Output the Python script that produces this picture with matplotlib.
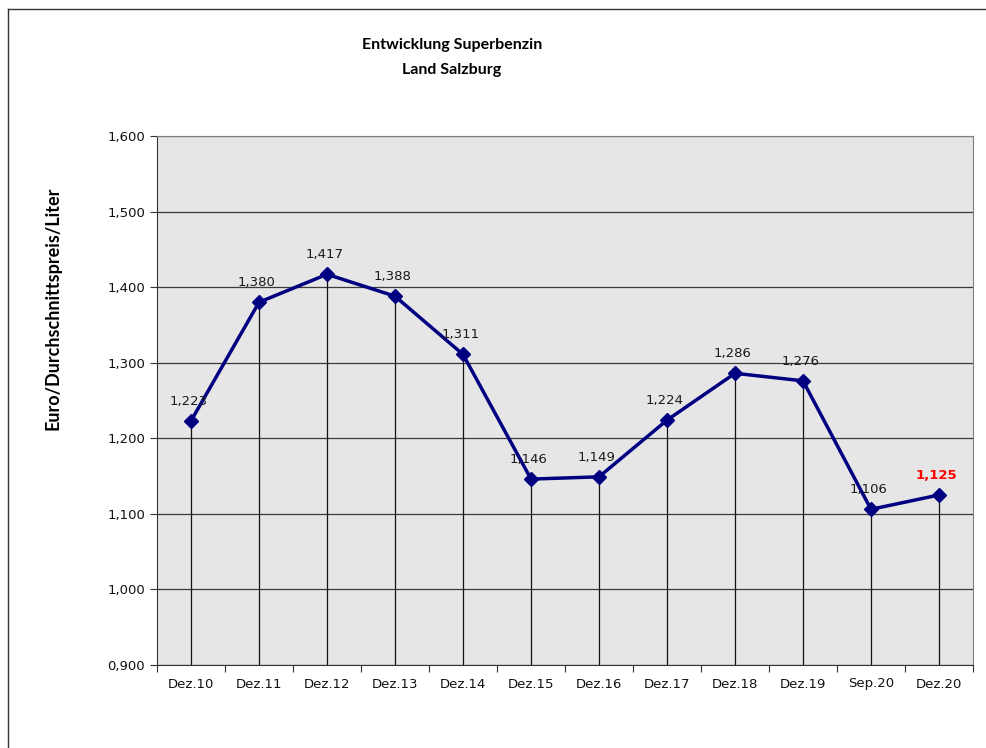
import matplotlib
matplotlib.use("Agg")
import matplotlib.pyplot as plt
from matplotlib.ticker import FuncFormatter, FixedLocator
from matplotlib.lines import Line2D

# Data
categories = ["Dez.10", "Dez.11", "Dez.12", "Dez.13", "Dez.14", "Dez.15",
              "Dez.16", "Dez.17", "Dez.18", "Dez.19", "Sep.20", "Dez.20"]
prices = [1.223, 1.380, 1.417, 1.388, 1.311, 1.146,
          1.149, 1.224, 1.286, 1.276, 1.106, 1.125]
y_ticks = [0.9, 1.0, 1.1, 1.2, 1.3, 1.4, 1.5, 1.6]

title_font = "Lato"


def fmt(v, pos=None):
    return f"{v:.3f}".replace(".", ",")


fig = plt.figure(figsize=(9.86, 7.48), dpi=100)
ax = fig.add_axes([157 / 986, 1 - 665 / 748, 816 / 986, 529 / 748])

# frame lines of the figure (top and left)
fig.add_artist(Line2D([8 / 986, 1.0], [1 - 9 / 748, 1 - 9 / 748],
                      transform=fig.transFigure, color="#333333", lw=1))
fig.add_artist(Line2D([8 / 986, 8 / 986], [0, 1 - 9 / 748],
                      transform=fig.transFigure, color="#333333", lw=1))

ax.set_facecolor("#e6e6e6")
x = list(range(len(categories)))
ax.set_xlim(-0.5, len(categories) - 0.5)
ax.set_ylim(0.9, 1.6)

ax.yaxis.set_major_locator(FixedLocator(y_ticks))
ax.yaxis.set_major_formatter(FuncFormatter(fmt))
ax.grid(axis="y", color="#3a3a3a", lw=0.9)
ax.set_axisbelow(True)

# drop lines
ax.vlines(x, 0.9, prices, color="#111111", lw=0.9, zorder=2)

ax.plot(x, prices, color="#000080", lw=2.5, marker="D", markersize=7,
        zorder=3)

for i, v in enumerate(prices):
    last = i == len(prices) - 1
    ax.annotate(fmt(v), (i, v), xytext=(-2, 14), textcoords="offset points",
                ha="center", va="center", fontsize=9.5,
                color="#ff0000" if last else "#1a1a1a",
                fontweight="bold" if last else "normal", zorder=4)

ax.set_xticks([i + 0.5 for i in range(-1, len(categories))], minor=False)
ax.set_xticklabels([])
ax.set_xticks(x, minor=True)
ax.set_xticklabels(categories, minor=True, fontsize=9.5, color="#111111")
ax.tick_params(axis="x", which="minor", length=0, pad=9)
ax.tick_params(axis="x", which="major", length=5, color="#333333")
ax.tick_params(axis="y", labelsize=9.5, labelcolor="#111111", length=5,
               color="#333333")

for side in ["top", "right"]:
    ax.spines[side].set_color("#808080")
for side in ["left", "bottom"]:
    ax.spines[side].set_color("#333333")

ax.set_ylabel("Euro/Durchschnittspreis/Liter", fontsize=13,
              fontweight="bold", family=title_font)
ax.yaxis.set_label_coords((62 - 157) / 816, (665 - 308) / 529)

fig.text(452 / 986, 1 - 45 / 748, "Entwicklung Superbenzin",
         ha="center", va="center", fontsize=11.5, fontweight="bold",
         family=title_font)
fig.text(452 / 986, 1 - 70 / 748, "Land Salzburg",
         ha="center", va="center", fontsize=11.5, fontweight="bold",
         family=title_font)

fig.savefig("out.png", dpi=100)
